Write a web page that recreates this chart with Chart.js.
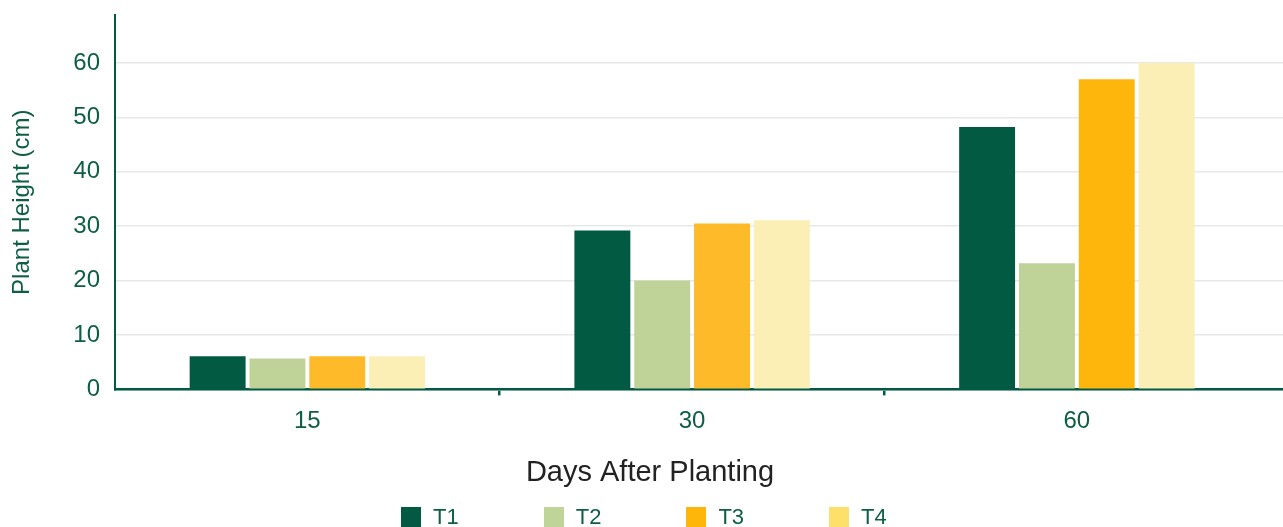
<!DOCTYPE html>
<html>
<head>
<meta charset="utf-8">
<script src="https://cdn.jsdelivr.net/npm/chart.js@4/dist/chart.umd.min.js"></script>
<style>
  html, body { margin: 0; padding: 0; background: #ffffff; overflow: hidden; }
  #wrap { position: absolute; left: 0; top: 0; width: 1300px; height: 527px; }
  #legend { position: absolute; left: 401px; top: 507px; display: flex; align-items: center;
            font-family: "Liberation Sans", Arial, sans-serif; font-size: 22px; color: #0e5e46; }
  .item { display: flex; align-items: center; margin-right: 85px; line-height: 20px; }
  .box { width: 20px; height: 20px; margin-right: 12px; }
</style>
</head>
<body>
<div id="wrap"><canvas id="chart"></canvas></div>
<div id="legend"></div>
<script>
// Days after planting (x categories)
const categories = ['15', '30', '60'];
// Treatment names
const seriesNames = ['T1', 'T2', 'T3', 'T4'];
// Plant height (cm) per treatment
const heightT1 = [6.1, 29.2, 48.2];
const heightT2 = [5.7, 20.0, 23.2];
const heightT3 = [6.1, 30.5, 57.0];
const heightT4 = [6.1, 31.1, 60.0];
// Y axis tick labels
const yTickValues = [0, 10, 20, 30, 40, 50, 60];

const GREEN = '#035a42';
const TEXT_GREEN = '#0e5e46';
const FONT = '"Liberation Sans", Arial, Helvetica, sans-serif';

const barColors = [
  GREEN,
  '#bfd398',
  ['#ffba2a', '#ffba2a', '#ffb60c'],
  '#fbefb6'
];
const legendColors = [GREEN, '#bfd498', '#ffb60b', '#fce06a'];

const seriesValues = [heightT1, heightT2, heightT3, heightT4];

const chart = new Chart(document.getElementById('chart'), {
  type: 'bar',
  data: {
    labels: categories,
    datasets: seriesNames.map((name, i) => ({
      label: name,
      data: seriesValues[i],
      backgroundColor: barColors[i],
      borderWidth: 0,
      categoryPercentage: 0.622,
      barPercentage: 0.935
    }))
  },
  options: {
    responsive: true,
    maintainAspectRatio: false,
    animation: false,
    devicePixelRatio: 1,
    layout: { padding: { top: 15, left: 0, right: 0, bottom: 0 } },
    plugins: {
      legend: { display: false },
      tooltip: { enabled: false },
      title: {
        display: true,
        position: 'bottom',
        text: 'Days After Planting',
        color: '#222222',
        font: { family: FONT, size: 29, weight: 'normal' },
        padding: { top: 7, bottom: 37 }
      }
    },
    scales: {
      x: {
        offset: true,
        // the axis runs a little past the last group of bars
        afterBuildTicks: (scale) => { scale._valueRange = 3.08; },
        border: { display: true, color: GREEN, width: 2.5 },
        grid: {
          offset: true,
          drawOnChartArea: false,
          drawTicks: true,
          tickLength: 6,
          lineWidth: 2.5,
          color: (c) => (c.type === 'tick' && c.index > 0) ? GREEN : 'rgba(0,0,0,0)'
        },
        ticks: {
          color: TEXT_GREEN,
          padding: 12,
          font: { family: FONT, size: 24 }
        }
      },
      y: {
        min: 0,
        max: 68.8,
        afterBuildTicks: (scale) => { scale.ticks = yTickValues.map(v => ({ value: v })); },
        afterFit: (scale) => { scale.width = 115; scale.paddingTop = 0; },
        border: { display: true, color: GREEN, width: 2 },
        grid: { color: '#e6e9e8', lineWidth: 1.6, drawTicks: false },
        ticks: {
          color: TEXT_GREEN,
          padding: 15,
          font: { family: FONT, size: 24 }
        },
        title: {
          display: true,
          text: 'Plant Height (cm)',
          color: TEXT_GREEN,
          font: { family: FONT, size: 24 },
          padding: { top: 8, bottom: 0 }
        }
      }
    }
  }
});

// Legend built from the chart's series names
const legendEl = document.getElementById('legend');
seriesNames.forEach((name, i) => {
  const item = document.createElement('div');
  item.className = 'item';
  if (i === seriesNames.length - 1) item.style.marginRight = '0';
  const box = document.createElement('span');
  box.className = 'box';
  box.style.background = legendColors[i];
  const label = document.createElement('span');
  label.textContent = name;
  item.appendChild(box);
  item.appendChild(label);
  legendEl.appendChild(item);
});
</script>
</body>
</html>
